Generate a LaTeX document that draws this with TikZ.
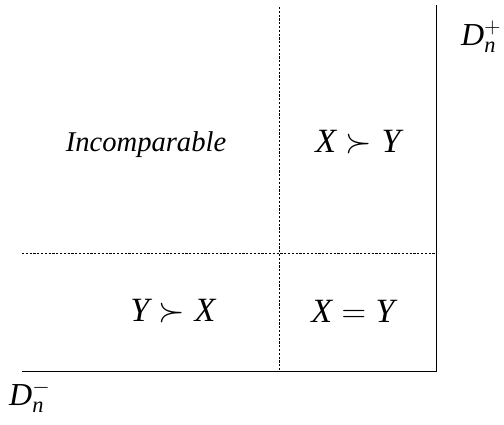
\RequirePackage{fix-cm}
\documentclass[tikz,border=0pt]{standalone}
\usepackage{fontspec}
\setmainfont{Liberation Serif}
\begin{document}
\begin{tikzpicture}[x=1pt,y=-1pt,
  solidline/.style={line width=0.9pt, black},
  dashline/.style={line width=0.6pt, black, dash pattern=on 2.2pt off 1.6pt},
  celltext/.style={font=\fontsize{28.6}{32}\selectfont\itshape, inner sep=0pt},
  mathtext/.style={font=\fontsize{34}{40}\selectfont, inner sep=0pt},
  axislabel/.style={font=\fontsize{32}{36}\selectfont, inner sep=0pt}]
\useasboundingbox (0,0) rectangle (504,424);
\coordinate (topR) at (436,5);
\coordinate (corner) at (436,371);
\coordinate (botL) at (22,371);
\coordinate (dvT) at (279,7);
\coordinate (dvB) at (279,371);
\coordinate (dhL) at (22,253);
\coordinate (dhR) at (436,253);
\draw[dashline] (dvT) -- (dvB);
\draw[dashline] (dhL) -- (dhR);
\draw[solidline] (topR) -- (corner) -- (botL);
\node[celltext] (inc) at (146,145) {Incomparable};
\node[mathtext] (xy) at (358,142) {$\mathit{X} \succ \mathit{Y}$};
\node[mathtext] (yx) at (173,311) {$\mathit{Y} \succ \mathit{X}$};
\node[mathtext] (eq) at (353,311) {$\mathit{X} = \mathit{Y}$};
\node[axislabel, anchor=base west] (dp) at (461,45) {$\mathit{D}_{\mathit{n}}^{+}$};
\node[axislabel, anchor=base west] (dm) at (9,405) {$\mathit{D}_{\mathit{n}}^{-}$};
\end{tikzpicture}
\end{document}
